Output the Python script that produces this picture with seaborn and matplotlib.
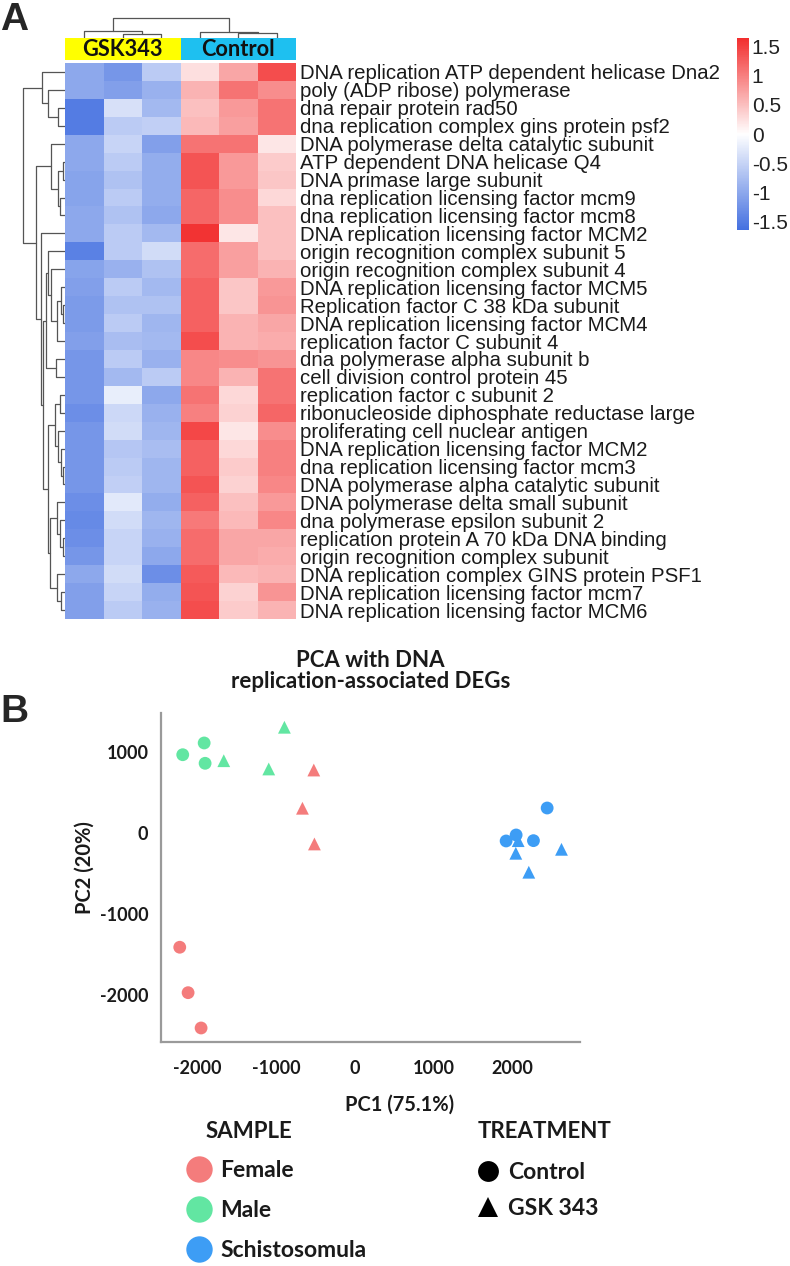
import numpy as np
import pandas as pd
import seaborn as sns
import matplotlib.pyplot as plt
from matplotlib.colors import LinearSegmentedColormap, ListedColormap
from matplotlib.lines import Line2D

W, H = 790, 1266

# ---------------- heatmap data (row z-scores) ----------------
genes = [
    'DNA replication ATP dependent helicase Dna2',
    'poly (ADP ribose) polymerase',
    'dna repair protein rad50',
    'dna replication complex gins protein psf2',
    'DNA polymerase delta catalytic subunit',
    'ATP dependent DNA helicase Q4',
    'DNA primase large subunit',
    'dna replication licensing factor mcm9',
    'dna replication licensing factor mcm8',
    'DNA replication licensing factor MCM2',
    'origin recognition complex subunit 5',
    'origin recognition complex subunit 4',
    'DNA replication licensing factor MCM5',
    'Replication factor C 38 kDa subunit',
    'DNA replication licensing factor MCM4',
    'replication factor C subunit 4',
    'dna polymerase alpha subunit b',
    'cell division control protein 45',
    'replication factor c subunit 2',
    'ribonucleoside diphosphate reductase large',
    'proliferating cell nuclear antigen',
    'DNA replication licensing factor MCM2',
    'dna replication licensing factor mcm3',
    'DNA polymerase alpha catalytic subunit',
    'DNA polymerase delta small subunit',
    'dna polymerase epsilon subunit 2',
    'replication protein A 70 kDa DNA binding',
    'origin recognition complex subunit',
    'DNA replication complex GINS protein PSF1',
    'DNA replication licensing factor mcm7',
    'DNA replication licensing factor MCM6',
]

gsk_1 = [-1.0, -1.0, -1.5, -1.5, -1.0, -1.0, -1.05, -1.05, -1.0, -1.0, -1.45, -1.05, -1.1, -1.15, -1.15, -1.1,
         -1.2, -1.2, -1.2, -1.3, -1.2, -1.2, -1.2, -1.2, -1.3, -1.35, -1.3, -1.2, -1.0, -1.1, -1.1]
gsk_2 = [-1.2, -1.1, -0.35, -0.6, -0.5, -0.6, -0.7, -0.6, -0.7, -0.6, -0.6, -0.9, -0.6, -0.7, -0.6, -0.75,
         -0.6, -0.8, -0.2, -0.45, -0.4, -0.65, -0.6, -0.55, -0.25, -0.4, -0.5, -0.5, -0.4, -0.5, -0.6]
gsk_3 = [-0.6, -0.9, -0.8, -0.55, -1.1, -0.95, -0.95, -0.95, -1.0, -0.8, -0.4, -0.7, -0.8, -0.7, -0.85, -0.8,
         -0.9, -0.6, -1.0, -0.9, -0.85, -0.75, -0.85, -0.85, -0.95, -0.85, -0.9, -1.0, -1.3, -0.95, -0.9]
ctrl_1 = [0.25, 0.6, 0.5, 0.55, 1.1, 1.35, 1.35, 1.2, 1.2, 1.6, 1.15, 1.15, 1.25, 1.25, 1.25, 1.4,
          0.95, 0.95, 1.1, 1.0, 1.45, 1.25, 1.25, 1.35, 1.25, 1.05, 1.15, 1.15, 1.3, 1.35, 1.4]
ctrl_2 = [0.7, 1.1, 0.8, 0.75, 1.1, 0.8, 0.8, 0.9, 0.9, 0.2, 0.75, 0.75, 0.45, 0.45, 0.6, 0.6,
          0.9, 0.6, 0.3, 0.35, 0.2, 0.3, 0.4, 0.35, 0.5, 0.55, 0.7, 0.7, 0.55, 0.35, 0.4]
ctrl_3 = [1.4, 0.9, 1.1, 1.1, 0.2, 0.4, 0.45, 0.3, 0.5, 0.5, 0.5, 0.6, 0.8, 0.85, 0.7, 0.65,
          0.85, 1.1, 1.1, 1.2, 0.9, 1.0, 1.0, 0.95, 0.8, 0.95, 0.7, 0.65, 0.6, 0.85, 0.6]

groups = ['GSK343', 'Control']
group_colors = ['#ffff00', '#1ec0f0']
cbar_ticks = [1.5, 1, 0.5, 0, -0.5, -1, -1.5]
cbar_labels = ['1.5', '1', '0.5', '0', '-0.5', '-1', '-1.5']

# row clustering tree: (height, left, right), leaves are row numbers
row_a = (0.555, 0, (0.40, 1, (0.17, 2, 3)))
row_b1 = (0.33, 4, (0.17, (0.05, 5, 6), (0.12, 7, 8)))
row_c1 = (0.45, (0.40, 10, (0.33, 11, (0.2, (0.1, 12, (0.05, 13, 14)), 15))), (0.22, 16, 17))
row_d = (0.24, (0.12, 18, 19), (0.17, 20, (0.1, 21, (0.05, 22, 23))))
row_e = (0.36, (0.2, 24, (0.12, 25, (0.05, 26, 27))), (0.2, 28, (0.1, 29, 30)))
row_tree = (1.0, row_a, (0.70, row_b1, (0.57, 9, (0.52, row_c1, (0.40, row_d, row_e)))))
# column clustering tree
col_tree = (1.0, (0.35, 0, (0.2, 1, 2)), (0.3, 3, (0.25, 4, 5)))

# ---------------- PCA data ----------------
female_pc1 = [-2222, -2116, -1951, -520, -664, -512]
female_pc2 = [-1407, -1968, -2404, 781, 309, -132]
male_pc1 = [-2184, -1912, -1900, -1663, -1092, -893]
male_pc2 = [970, 1115, 864, 896, 794, 1309]
schisto_pc1 = [1922, 2049, 2269, 2443, 2075, 2045, 2210, 2625]
schisto_pc2 = [-95, -21, -91, 312, -91, -247, -481, -198]
female_treat = ['Control'] * 3 + ['GSK 343'] * 3
male_treat = ['Control'] * 3 + ['GSK 343'] * 3
schisto_treat = ['Control'] * 4 + ['GSK 343'] * 4

sample_names = ['Female', 'Male', 'Schistosomula']
sample_colors = ['#f47c7c', '#62e6a2', '#3d9df5']
treat_names = ['Control', 'GSK 343']
treat_markers = ['o', '^']

sns.set_style('white')
plt.rcParams['font.family'] = ['Liberation Sans', 'DejaVu Sans']
plt.rcParams['axes.unicode_minus'] = False

fig = plt.figure(figsize=(W / 100, H / 100), dpi=100)


def px_axes(x0, y0, x1, y1):
    return fig.add_axes([x0 / W, 1 - y1 / H, (x1 - x0) / W, (y1 - y0) / H])


def draw_tree(ax, node, rows):
    if isinstance(node, int):
        return node + 0.5, 0.0
    h, left, right = node
    p1, h1 = draw_tree(ax, left, rows)
    p2, h2 = draw_tree(ax, right, rows)
    if rows:
        ax.plot([h1, h, h, h2], [p1, p1, p2, p2], color='#555555', lw=0.9)
    else:
        ax.plot([p1, p1, p2, p2], [h1, h, h, h2], color='#555555', lw=0.9)
    return (p1 + p2) / 2, h


# ---------------- panel A ----------------
hax = px_axes(65, 63, 296, 619)
cax = px_axes(737, 38, 749, 230)
rax = px_axes(22, 63, 65, 619)
dax = px_axes(65, 17, 296, 38)
aax = px_axes(65, 38, 296, 60)

hm = pd.DataFrame({'GSK343_1': gsk_1, 'GSK343_2': gsk_2, 'GSK343_3': gsk_3,
                   'Control_1': ctrl_1, 'Control_2': ctrl_2, 'Control_3': ctrl_3})
cmap = LinearSegmentedColormap.from_list('bwr_soft', ['#4470e0', '#ffffff', '#f22e2e'])
sns.heatmap(hm, ax=hax, cmap=cmap, vmin=-1.65, vmax=1.65, cbar_ax=cax,
            xticklabels=False, yticklabels=genes)
hax.yaxis.tick_right()
hax.tick_params(axis='y', length=0, labelsize=14.7, pad=3, labelcolor='#1a1a1a')
plt.setp(hax.get_yticklabels(), rotation=0)

cbar = hax.collections[0].colorbar
cbar.set_ticks(cbar_ticks)
cbar.set_ticklabels(cbar_labels)
cbar.outline.set_visible(False)
cax.tick_params(length=0, labelsize=15, pad=2, labelcolor='#222222')

draw_tree(rax, row_tree, True)
rax.set_xlim(1.024, 0)
rax.set_ylim(len(genes), 0)
rax.axis('off')

draw_tree(dax, col_tree, False)
dax.set_xlim(0, 6)
dax.set_ylim(0, 1.05)
dax.axis('off')

sns.heatmap(np.array([[0, 0, 0, 1, 1, 1]]), ax=aax, cmap=ListedColormap(group_colors),
            cbar=False, xticklabels=False, yticklabels=False)
for i, g in enumerate(groups):
    aax.text(1.5 + 3 * i, 0.5, g, ha='center', va='center', fontsize=15.7,
             fontweight='bold', family='Lato', color='#111111')

fig.text(0.0, 1 - 2 / H, 'A', fontsize=28, fontweight='bold', va='top', ha='left')
fig.text(0.0, 1 - 694 / H, 'B', fontsize=28, fontweight='bold', va='top', ha='left')

# ---------------- panel B ----------------
pca = pd.DataFrame({
    'PC1': female_pc1 + male_pc1 + schisto_pc1,
    'PC2': female_pc2 + male_pc2 + schisto_pc2,
    'sample': ['Female'] * 6 + ['Male'] * 6 + ['Schistosomula'] * 8,
    'treatment': female_treat + male_treat + schisto_treat,
})

sax = px_axes(161, 713, 580, 1042)
sns.scatterplot(data=pca, x='PC1', y='PC2', hue='sample', style='treatment',
                palette=dict(zip(sample_names, sample_colors)),
                markers=dict(zip(treat_names, treat_markers)),
                s=85, linewidth=0, legend=False, ax=sax)
sax.set_xlim(-2460, 2860)
sax.set_ylim(-2577, 1485)
sax.set_xticks([-2000, -1000, 0, 1000, 2000])
sax.set_yticks([-2000, -1000, 0, 1000])
sns.despine(ax=sax)
for sp in ['left', 'bottom']:
    sax.spines[sp].set_color('#9a9a9a')
    sax.spines[sp].set_linewidth(1.6)
sax.tick_params(length=0, labelsize=13, labelcolor='#1a1a1a')
sax.tick_params(axis='x', pad=13)
sax.tick_params(axis='y', pad=9)
for lab in sax.get_xticklabels() + sax.get_yticklabels():
    lab.set_fontfamily('Lato')
    lab.set_fontweight('bold')

lab_font = dict(family='Lato', weight='bold', size=14.5, color='#1a1a1a')
sax.set_xlabel('PC1 (75.1%)', fontdict=lab_font)
sax.set_ylabel('PC2 (20%)', fontdict=lab_font)
sax.xaxis.set_label_coords(0.57, -0.16)
sax.yaxis.set_label_coords(-0.158, 0.53)
sax.set_title('PCA with DNA\nreplication-associated DEGs', family='Lato', weight='bold',
              size=16, color='#1a1a1a', pad=18, linespacing=1.0)

# legends
title_font = dict(family='Lato', weight='bold', size=16)
leg_font = dict(family='Lato', weight='bold', size=16.5)
fig.text(206 / W, 1 - 1132 / H, 'SAMPLE', va='center', ha='left', color='#1a1a1a', **title_font)
fig.text(478 / W, 1 - 1132 / H, 'TREATMENT', va='center', ha='left', color='#1a1a1a', **title_font)

sample_handles = [Line2D([0], [0], marker='o', ls='', markersize=19, markerfacecolor=c,
                         markeredgewidth=0, label=n) for n, c in zip(sample_names, sample_colors)]
treat_handles = [Line2D([0], [0], marker=m, ls='', markersize=15, markerfacecolor='black',
                        markeredgewidth=0, label=n) for n, m in zip(treat_names, treat_markers)]

fig.legend(handles=sample_handles, loc='upper left', bbox_to_anchor=(185 / W, 1 - 1160 / H),
           frameon=False, borderpad=0, borderaxespad=0, handlelength=1.2, handletextpad=0.33,
           labelspacing=0.82, prop=leg_font, labelcolor='#1a1a1a')
fig.legend(handles=treat_handles, loc='upper left', bbox_to_anchor=(476.5 / W, 1 - 1162 / H),
           frameon=False, borderpad=0, borderaxespad=0, handlelength=1.0, handletextpad=0.38,
           labelspacing=0.65, prop=leg_font, labelcolor='#1a1a1a')

fig.savefig('out.png', dpi=100)
